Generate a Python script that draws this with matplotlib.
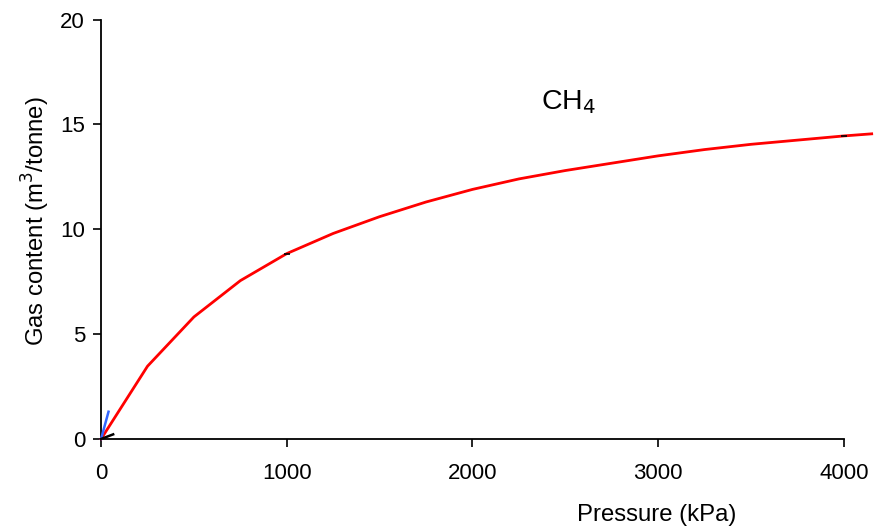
import matplotlib; matplotlib.use('Agg')
import matplotlib.pyplot as plt

plt.rcParams['font.family'] = ['Liberation Sans', 'DejaVu Sans']

# CH4 isotherm
p_ch4 = [0, 250, 500, 750, 1000, 1250, 1500, 1750, 2000, 2250, 2500, 2750, 3000,
         3250, 3500, 3750, 4000, 4150]
v_ch4 = [0, 3.47, 5.82, 7.55, 8.84, 9.80, 10.6, 11.3, 11.9, 12.4, 12.8, 13.15, 13.5,
         13.8, 14.05, 14.25, 14.45, 14.55]
# short blue and black traces near the origin
p_blue = [0, 40]
v_blue = [0, 1.3]
p_blk = [0, 65]
v_blk = [0, 0.22]
# tiny black marks sitting on the red curve
p_mark = [1000, 4000]
v_mark = [8.84, 14.45]

fig = plt.figure(figsize=(8.79, 5.28), dpi=100)
ax = fig.add_axes([0.115, 0.1686, 0.845, 0.7944])

ax.plot(p_ch4, v_ch4, color='#FF0000', lw=2.0, clip_on=False, zorder=3)
ax.plot(p_blue, v_blue, color='#3366FF', lw=1.8, clip_on=False, zorder=4)
ax.plot(p_blk, v_blk, color='black', lw=1.8, clip_on=False, zorder=4)
ax.plot(p_mark, v_mark, ls='none', marker='_', ms=4, mew=1.2, color='black', zorder=5, clip_on=False)

ax.set_xlim(0, 4000)
ax.set_ylim(0, 20)
ax.set_xticks([0, 1000, 2000, 3000, 4000])
ax.set_yticks([0, 5, 10, 15, 20])
for s in ['top', 'right']:
    ax.spines[s].set_visible(False)
for s in ['left', 'bottom']:
    ax.spines[s].set_linewidth(1.3)
ax.tick_params(direction='out', length=5.5, width=1.2, labelsize=16, pad=12)
ax.tick_params(axis='y', pad=6)

ax.set_ylabel('Gas content (m$^3$/tonne)', fontsize=17.2)
ax.set_xlabel('Pressure (kPa)', fontsize=17.2)
ax.xaxis.set_label_coords(0.748, -0.155)
ax.yaxis.set_label_coords(-0.066, 0.52)

ax.text(2370, 16.05, 'CH$_4$', fontsize=20.5, ha='left', va='center')

fig.savefig('out.png', dpi=100, facecolor='white')
